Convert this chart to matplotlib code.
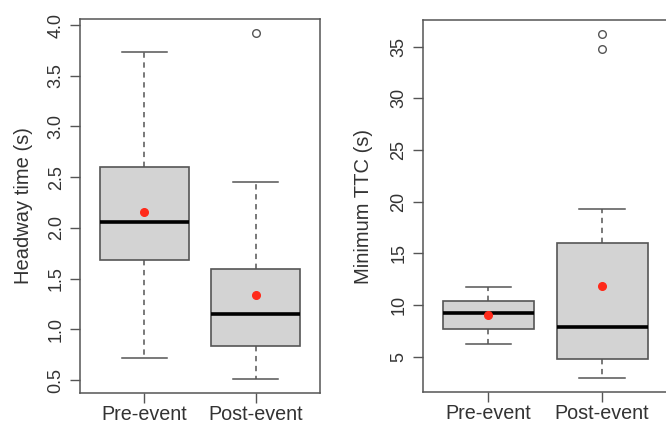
import matplotlib.pyplot as plt

plt.rcParams['font.family'] = ['Liberation Sans', 'DejaVu Sans']

groups = ['Pre-event', 'Post-event']

# headway time (s)
hw_whislo = [0.72, 0.51]
hw_q1 = [1.68, 0.84]
hw_med = [2.06, 1.15]
hw_q3 = [2.60, 1.59]
hw_whishi = [3.73, 2.455]
hw_mean = [2.16, 1.34]
hw_fliers = [[], [3.92]]

# minimum TTC (s)
ttc_whislo = [6.2, 2.9]
ttc_q1 = [7.65, 4.75]
ttc_med = [9.2, 7.85]
ttc_q3 = [10.4, 16.0]
ttc_whishi = [11.7, 19.25]
ttc_mean = [9.0, 11.8]
ttc_fliers = [[], [34.75, 36.2]]

frame_col = '#555555'
text_col = '#333333'


def draw_box(ax, lo, q1, med, q3, hi, mean, fliers):
    stats = []
    for i in range(len(groups)):
        stats.append({'whislo': lo[i], 'q1': q1[i], 'med': med[i], 'q3': q3[i],
                      'whishi': hi[i], 'fliers': fliers[i], 'label': groups[i]})
    ax.bxp(stats, positions=[1, 2], widths=0.8, patch_artist=True,
           boxprops=dict(facecolor='#d3d3d3', edgecolor=frame_col, linewidth=1.2),
           medianprops=dict(color='black', linewidth=2.6),
           whiskerprops=dict(color=frame_col, linewidth=1.1, linestyle=(0, (3.5, 3))),
           capprops=dict(color=frame_col, linewidth=1.1),
           capwidths=0.4,
           flierprops=dict(marker='o', markerfacecolor='none', markeredgecolor=frame_col,
                           markersize=5.5, markeredgewidth=1.0))
    ax.plot([1, 2], mean, 'o', color='#ff2a1a', markersize=5.5, zorder=5)
    ax.set_xlim(0.42, 2.58)
    for sp in ax.spines.values():
        sp.set_color(frame_col)
        sp.set_linewidth(1.1)
    ax.tick_params(axis='y', labelrotation=90, labelsize=13, length=7, width=1.0,
                   color=frame_col, labelcolor=text_col, pad=4)
    ax.tick_params(axis='x', labelsize=14.2, length=7, width=1.0,
                   color=frame_col, labelcolor=text_col, pad=1.5)
    for lbl in ax.get_yticklabels():
        lbl.set_va('center')


fig = plt.figure(figsize=(6.66, 4.24), dpi=100)

ax1 = fig.add_axes([80 / 666, 31 / 424, 240 / 666, 374 / 424])
draw_box(ax1, hw_whislo, hw_q1, hw_med, hw_q3, hw_whishi, hw_mean, hw_fliers)
ax1.set_ylim(0.372, 4.06)
ax1.set_yticks([0.5, 1.0, 1.5, 2.0, 2.5, 3.0, 3.5, 4.0])
ax1.set_yticklabels(['0.5', '1.0', '1.5', '2.0', '2.5', '3.0', '3.5', '4.0'])
ax1.set_ylabel('Headway time (s)', fontsize=14.5, color=text_col)
ax1.yaxis.set_label_coords(-47 / 240, 0.5)

ax2 = fig.add_axes([422.5 / 666, 32 / 424, 245.6 / 666, 372 / 424])
draw_box(ax2, ttc_whislo, ttc_q1, ttc_med, ttc_q3, ttc_whishi, ttc_mean, ttc_fliers)
ax2.set_ylim(1.58, 37.58)
ax2.set_yticks([5, 10, 15, 20, 25, 30, 35])
ax2.set_ylabel('Minimum TTC (s)', fontsize=14.5, color=text_col)
ax2.yaxis.set_label_coords(-49.5 / 245.6, 0.5)

fig.savefig('out.png', dpi=100)
